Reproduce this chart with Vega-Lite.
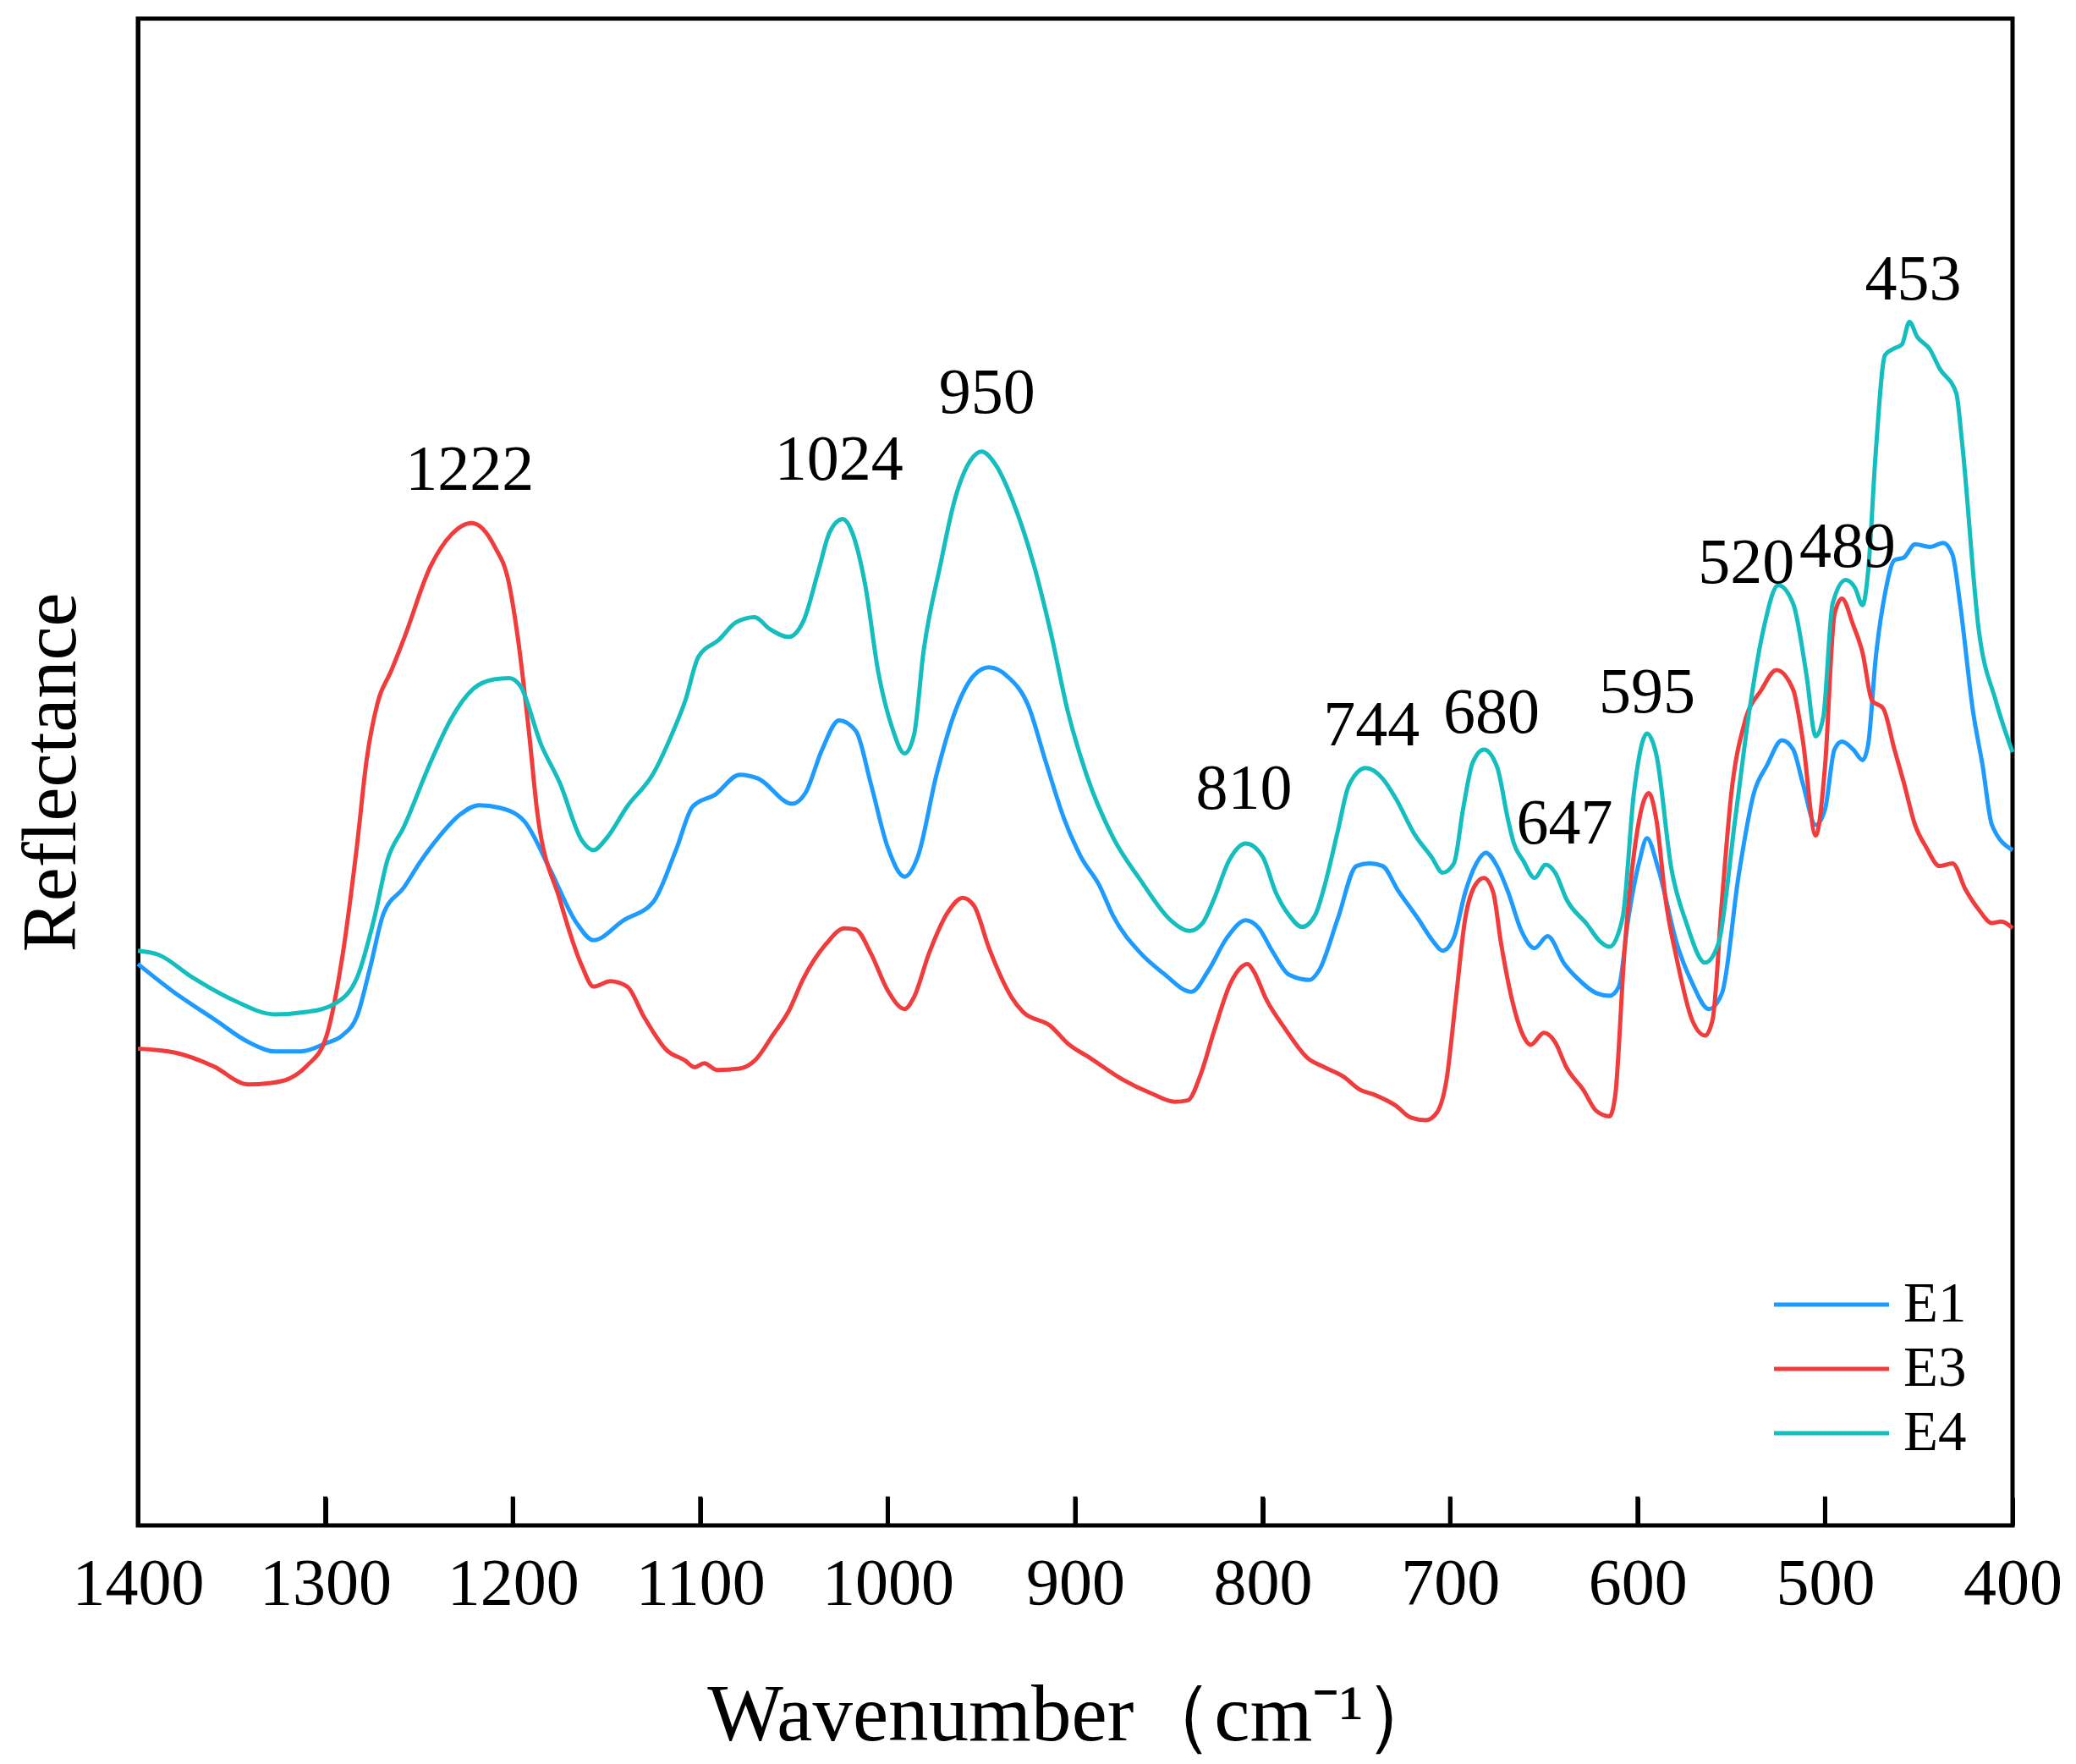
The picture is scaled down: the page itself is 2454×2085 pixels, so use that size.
{
  "$schema": "https://vega.github.io/schema/vega-lite/v6.json",
  "width": 2216,
  "height": 1781,
  "autosize": {"type": "none"},
  "padding": {"left": 163, "top": 22, "right": 75, "bottom": 282},
  "background": "white",
  "config": {
    "view": {"stroke": "black", "strokeWidth": 5},
    "font": "Liberation Serif"
  },
  "datasets": {
    "spectra": [
      {"s": "E1", "w": 1400, "r": 424}, {"s": "E1", "w": 1382, "r": 404}, {"s": "E1", "w": 1359, "r": 382},
      {"s": "E1", "w": 1341, "r": 365}, {"s": "E1", "w": 1327, "r": 358}, {"s": "E1", "w": 1313, "r": 358},
      {"s": "E1", "w": 1300, "r": 364}, {"s": "E1", "w": 1291, "r": 370}, {"s": "E1", "w": 1283, "r": 385},
      {"s": "E1", "w": 1276, "r": 422}, {"s": "E1", "w": 1269, "r": 462}, {"s": "E1", "w": 1258, "r": 482},
      {"s": "E1", "w": 1249, "r": 502}, {"s": "E1", "w": 1240, "r": 519}, {"s": "E1", "w": 1228, "r": 537},
      {"s": "E1", "w": 1218, "r": 544}, {"s": "E1", "w": 1207, "r": 542}, {"s": "E1", "w": 1194, "r": 532},
      {"s": "E1", "w": 1180, "r": 495}, {"s": "E1", "w": 1166, "r": 455}, {"s": "E1", "w": 1157, "r": 442},
      {"s": "E1", "w": 1141, "r": 457}, {"s": "E1", "w": 1125, "r": 471}, {"s": "E1", "w": 1113, "r": 510},
      {"s": "E1", "w": 1104, "r": 543}, {"s": "E1", "w": 1092, "r": 552}, {"s": "E1", "w": 1079, "r": 567},
      {"s": "E1", "w": 1069, "r": 564}, {"s": "E1", "w": 1051, "r": 545}, {"s": "E1", "w": 1044, "r": 553},
      {"s": "E1", "w": 1035, "r": 586}, {"s": "E1", "w": 1026, "r": 608}, {"s": "E1", "w": 1017, "r": 600},
      {"s": "E1", "w": 1009, "r": 560}, {"s": "E1", "w": 1000, "r": 512}, {"s": "E1", "w": 991, "r": 490},
      {"s": "E1", "w": 984, "r": 505}, {"s": "E1", "w": 974, "r": 567}, {"s": "E1", "w": 964, "r": 615},
      {"s": "E1", "w": 954, "r": 642}, {"s": "E1", "w": 946, "r": 648}, {"s": "E1", "w": 936, "r": 641},
      {"s": "E1", "w": 925, "r": 619}, {"s": "E1", "w": 916, "r": 578}, {"s": "E1", "w": 906, "r": 534},
      {"s": "E1", "w": 897, "r": 505}, {"s": "E1", "w": 887, "r": 483}, {"s": "E1", "w": 880, "r": 461},
      {"s": "E1", "w": 865, "r": 432}, {"s": "E1", "w": 853, "r": 417}, {"s": "E1", "w": 838, "r": 403},
      {"s": "E1", "w": 829, "r": 419}, {"s": "E1", "w": 819, "r": 444}, {"s": "E1", "w": 809, "r": 457},
      {"s": "E1", "w": 802, "r": 451}, {"s": "E1", "w": 795, "r": 434}, {"s": "E1", "w": 786, "r": 416},
      {"s": "E1", "w": 775, "r": 412}, {"s": "E1", "w": 770, "r": 419}, {"s": "E1", "w": 760, "r": 458},
      {"s": "E1", "w": 750, "r": 498}, {"s": "E1", "w": 743, "r": 500}, {"s": "E1", "w": 736, "r": 498},
      {"s": "E1", "w": 728, "r": 480}, {"s": "E1", "w": 717, "r": 458}, {"s": "E1", "w": 709, "r": 441},
      {"s": "E1", "w": 704, "r": 434}, {"s": "E1", "w": 698, "r": 444}, {"s": "E1", "w": 692, "r": 478},
      {"s": "E1", "w": 686, "r": 500}, {"s": "E1", "w": 681, "r": 508}, {"s": "E1", "w": 675, "r": 498},
      {"s": "E1", "w": 669, "r": 478}, {"s": "E1", "w": 662, "r": 449}, {"s": "E1", "w": 655, "r": 436},
      {"s": "E1", "w": 648, "r": 445}, {"s": "E1", "w": 639, "r": 424}, {"s": "E1", "w": 632, "r": 413},
      {"s": "E1", "w": 622, "r": 402}, {"s": "E1", "w": 615, "r": 400}, {"s": "E1", "w": 610, "r": 407},
      {"s": "E1", "w": 605, "r": 458}, {"s": "E1", "w": 599, "r": 502}, {"s": "E1", "w": 595, "r": 519},
      {"s": "E1", "w": 589, "r": 496}, {"s": "E1", "w": 579, "r": 439}, {"s": "E1", "w": 571, "r": 410},
      {"s": "E1", "w": 562, "r": 390}, {"s": "E1", "w": 555, "r": 402}, {"s": "E1", "w": 546, "r": 492},
      {"s": "E1", "w": 538, "r": 553}, {"s": "E1", "w": 531, "r": 574}, {"s": "E1", "w": 523, "r": 593},
      {"s": "E1", "w": 517, "r": 586}, {"s": "E1", "w": 512, "r": 561}, {"s": "E1", "w": 505, "r": 529},
      {"s": "E1", "w": 500, "r": 541}, {"s": "E1", "w": 495, "r": 586}, {"s": "E1", "w": 491, "r": 592},
      {"s": "E1", "w": 485, "r": 586}, {"s": "E1", "w": 480, "r": 578}, {"s": "E1", "w": 477, "r": 590},
      {"s": "E1", "w": 473, "r": 655}, {"s": "E1", "w": 468, "r": 704}, {"s": "E1", "w": 463, "r": 729},
      {"s": "E1", "w": 458, "r": 731}, {"s": "E1", "w": 452, "r": 741}, {"s": "E1", "w": 444, "r": 739},
      {"s": "E1", "w": 437, "r": 742}, {"s": "E1", "w": 432, "r": 733}, {"s": "E1", "w": 428, "r": 696},
      {"s": "E1", "w": 421, "r": 614}, {"s": "E1", "w": 416, "r": 574}, {"s": "E1", "w": 411, "r": 529},
      {"s": "E1", "w": 400, "r": 510},

      {"s": "E3", "w": 1400, "r": 360}, {"s": "E3", "w": 1380, "r": 357}, {"s": "E3", "w": 1360, "r": 347},
      {"s": "E3", "w": 1341, "r": 333}, {"s": "E3", "w": 1330, "r": 334}, {"s": "E3", "w": 1320, "r": 337},
      {"s": "E3", "w": 1310, "r": 347}, {"s": "E3", "w": 1300, "r": 367}, {"s": "E3", "w": 1291, "r": 429},
      {"s": "E3", "w": 1283, "r": 515}, {"s": "E3", "w": 1278, "r": 578}, {"s": "E3", "w": 1272, "r": 622},
      {"s": "E3", "w": 1265, "r": 645}, {"s": "E3", "w": 1258, "r": 670}, {"s": "E3", "w": 1244, "r": 724},
      {"s": "E3", "w": 1233, "r": 748},
      {"s": "E3", "w": 1222, "r": 757}, {"s": "E3", "w": 1210, "r": 740}, {"s": "E3", "w": 1202, "r": 711},
      {"s": "E3", "w": 1197, "r": 667}, {"s": "E3", "w": 1191, "r": 594}, {"s": "E3", "w": 1187, "r": 539},
      {"s": "E3", "w": 1175, "r": 473}, {"s": "E3", "w": 1163, "r": 422}, {"s": "E3", "w": 1157, "r": 407},
      {"s": "E3", "w": 1148, "r": 411}, {"s": "E3", "w": 1139, "r": 407}, {"s": "E3", "w": 1130, "r": 384},
      {"s": "E3", "w": 1118, "r": 359}, {"s": "E3", "w": 1108, "r": 351}, {"s": "E3", "w": 1103, "r": 346},
      {"s": "E3", "w": 1098, "r": 349}, {"s": "E3", "w": 1091, "r": 344}, {"s": "E3", "w": 1079, "r": 345},
      {"s": "E3", "w": 1071, "r": 351}, {"s": "E3", "w": 1061, "r": 371}, {"s": "E3", "w": 1053, "r": 388},
      {"s": "E3", "w": 1045, "r": 413}, {"s": "E3", "w": 1033, "r": 439}, {"s": "E3", "w": 1023, "r": 451},
      {"s": "E3", "w": 1017, "r": 450}, {"s": "E3", "w": 1009, "r": 432}, {"s": "E3", "w": 1000, "r": 404},
      {"s": "E3", "w": 991, "r": 390}, {"s": "E3", "w": 986, "r": 399}, {"s": "E3", "w": 978, "r": 432},
      {"s": "E3", "w": 968, "r": 463}, {"s": "E3", "w": 960, "r": 474}, {"s": "E3", "w": 954, "r": 468},
      {"s": "E3", "w": 946, "r": 436}, {"s": "E3", "w": 934, "r": 399}, {"s": "E3", "w": 928, "r": 388},
      {"s": "E3", "w": 913, "r": 377}, {"s": "E3", "w": 904, "r": 364}, {"s": "E3", "w": 892, "r": 353},
      {"s": "E3", "w": 875, "r": 337}, {"s": "E3", "w": 859, "r": 326}, {"s": "E3", "w": 847, "r": 320},
      {"s": "E3", "w": 840, "r": 321}, {"s": "E3", "w": 833, "r": 341}, {"s": "E3", "w": 826, "r": 373},
      {"s": "E3", "w": 817, "r": 410}, {"s": "E3", "w": 808, "r": 424}, {"s": "E3", "w": 805, "r": 419},
      {"s": "E3", "w": 798, "r": 397}, {"s": "E3", "w": 788, "r": 375}, {"s": "E3", "w": 776, "r": 353},
      {"s": "E3", "w": 767, "r": 346}, {"s": "E3", "w": 757, "r": 339}, {"s": "E3", "w": 748, "r": 329},
      {"s": "E3", "w": 740, "r": 325}, {"s": "E3", "w": 729, "r": 317}, {"s": "E3", "w": 721, "r": 308},
      {"s": "E3", "w": 713, "r": 306}, {"s": "E3", "w": 707, "r": 312}, {"s": "E3", "w": 702, "r": 336},
      {"s": "E3", "w": 697, "r": 397}, {"s": "E3", "w": 692, "r": 458}, {"s": "E3", "w": 686, "r": 485},
      {"s": "E3", "w": 682, "r": 489}, {"s": "E3", "w": 677, "r": 478}, {"s": "E3", "w": 673, "r": 441},
      {"s": "E3", "w": 667, "r": 397}, {"s": "E3", "w": 662, "r": 373}, {"s": "E3", "w": 657, "r": 363},
      {"s": "E3", "w": 650, "r": 372}, {"s": "E3", "w": 644, "r": 365}, {"s": "E3", "w": 638, "r": 346},
      {"s": "E3", "w": 629, "r": 329}, {"s": "E3", "w": 622, "r": 313}, {"s": "E3", "w": 615, "r": 309},
      {"s": "E3", "w": 612, "r": 324}, {"s": "E3", "w": 607, "r": 434}, {"s": "E3", "w": 601, "r": 517},
      {"s": "E3", "w": 594, "r": 553}, {"s": "E3", "w": 590, "r": 533}, {"s": "E3", "w": 585, "r": 472},
      {"s": "E3", "w": 579, "r": 427}, {"s": "E3", "w": 571, "r": 382}, {"s": "E3", "w": 564, "r": 370},
      {"s": "E3", "w": 560, "r": 382}, {"s": "E3", "w": 555, "r": 472}, {"s": "E3", "w": 550, "r": 553},
      {"s": "E3", "w": 543, "r": 606}, {"s": "E3", "w": 534, "r": 631}, {"s": "E3", "w": 526, "r": 646},
      {"s": "E3", "w": 517, "r": 631}, {"s": "E3", "w": 512, "r": 594}, {"s": "E3", "w": 505, "r": 521},
      {"s": "E3", "w": 500, "r": 574}, {"s": "E3", "w": 495, "r": 688}, {"s": "E3", "w": 491, "r": 700},
      {"s": "E3", "w": 485, "r": 680}, {"s": "E3", "w": 480, "r": 659}, {"s": "E3", "w": 475, "r": 623},
      {"s": "E3", "w": 469, "r": 617}, {"s": "E3", "w": 463, "r": 586}, {"s": "E3", "w": 458, "r": 561},
      {"s": "E3", "w": 452, "r": 529}, {"s": "E3", "w": 446, "r": 512}, {"s": "E3", "w": 439, "r": 498},
      {"s": "E3", "w": 432, "r": 500}, {"s": "E3", "w": 425, "r": 480}, {"s": "E3", "w": 418, "r": 465},
      {"s": "E3", "w": 411, "r": 455}, {"s": "E3", "w": 406, "r": 456}, {"s": "E3", "w": 400, "r": 451},

      {"s": "E4", "w": 1400, "r": 434}, {"s": "E4", "w": 1389, "r": 431}, {"s": "E4", "w": 1371, "r": 414},
      {"s": "E4", "w": 1348, "r": 396}, {"s": "E4", "w": 1327, "r": 386}, {"s": "E4", "w": 1309, "r": 388},
      {"s": "E4", "w": 1295, "r": 394}, {"s": "E4", "w": 1283, "r": 414}, {"s": "E4", "w": 1274, "r": 458},
      {"s": "E4", "w": 1267, "r": 502}, {"s": "E4", "w": 1258, "r": 528}, {"s": "E4", "w": 1244, "r": 576},
      {"s": "E4", "w": 1233, "r": 609}, {"s": "E4", "w": 1221, "r": 632}, {"s": "E4", "w": 1210, "r": 639},
      {"s": "E4", "w": 1202, "r": 640}, {"s": "E4", "w": 1196, "r": 634}, {"s": "E4", "w": 1185, "r": 590},
      {"s": "E4", "w": 1175, "r": 561}, {"s": "E4", "w": 1163, "r": 517}, {"s": "E4", "w": 1157, "r": 510},
      {"s": "E4", "w": 1150, "r": 519}, {"s": "E4", "w": 1139, "r": 543}, {"s": "E4", "w": 1125, "r": 568},
      {"s": "E4", "w": 1115, "r": 598}, {"s": "E4", "w": 1108, "r": 623}, {"s": "E4", "w": 1101, "r": 656},
      {"s": "E4", "w": 1090, "r": 669}, {"s": "E4", "w": 1081, "r": 682}, {"s": "E4", "w": 1071, "r": 686},
      {"s": "E4", "w": 1063, "r": 677}, {"s": "E4", "w": 1053, "r": 671}, {"s": "E4", "w": 1045, "r": 683},
      {"s": "E4", "w": 1037, "r": 721}, {"s": "E4", "w": 1031, "r": 750}, {"s": "E4", "w": 1024, "r": 760},
      {"s": "E4", "w": 1019, "r": 750}, {"s": "E4", "w": 1012, "r": 710}, {"s": "E4", "w": 1005, "r": 644},
      {"s": "E4", "w": 998, "r": 604}, {"s": "E4", "w": 991, "r": 583}, {"s": "E4", "w": 986, "r": 597},
      {"s": "E4", "w": 981, "r": 659}, {"s": "E4", "w": 972, "r": 725}, {"s": "E4", "w": 964, "r": 776},
      {"s": "E4", "w": 956, "r": 804}, {"s": "E4", "w": 950, "r": 811}, {"s": "E4", "w": 942, "r": 800},
      {"s": "E4", "w": 934, "r": 776}, {"s": "E4", "w": 922, "r": 725}, {"s": "E4", "w": 913, "r": 674},
      {"s": "E4", "w": 904, "r": 615}, {"s": "E4", "w": 894, "r": 567}, {"s": "E4", "w": 880, "r": 520},
      {"s": "E4", "w": 865, "r": 487}, {"s": "E4", "w": 849, "r": 457}, {"s": "E4", "w": 839, "r": 449},
      {"s": "E4", "w": 832, "r": 455}, {"s": "E4", "w": 826, "r": 473}, {"s": "E4", "w": 818, "r": 502},
      {"s": "E4", "w": 809, "r": 515}, {"s": "E4", "w": 800, "r": 505}, {"s": "E4", "w": 793, "r": 478},
      {"s": "E4", "w": 786, "r": 461}, {"s": "E4", "w": 779, "r": 452}, {"s": "E4", "w": 772, "r": 461},
      {"s": "E4", "w": 767, "r": 483}, {"s": "E4", "w": 760, "r": 524}, {"s": "E4", "w": 754, "r": 559},
      {"s": "E4", "w": 745, "r": 572}, {"s": "E4", "w": 736, "r": 564}, {"s": "E4", "w": 729, "r": 549},
      {"s": "E4", "w": 719, "r": 522}, {"s": "E4", "w": 710, "r": 505}, {"s": "E4", "w": 704, "r": 493},
      {"s": "E4", "w": 698, "r": 500}, {"s": "E4", "w": 693, "r": 542}, {"s": "E4", "w": 688, "r": 576},
      {"s": "E4", "w": 682, "r": 586}, {"s": "E4", "w": 675, "r": 573}, {"s": "E4", "w": 669, "r": 532},
      {"s": "E4", "w": 666, "r": 515}, {"s": "E4", "w": 661, "r": 502}, {"s": "E4", "w": 655, "r": 489},
      {"s": "E4", "w": 649, "r": 499}, {"s": "E4", "w": 644, "r": 493}, {"s": "E4", "w": 638, "r": 473},
      {"s": "E4", "w": 627, "r": 454}, {"s": "E4", "w": 620, "r": 441}, {"s": "E4", "w": 615, "r": 437},
      {"s": "E4", "w": 608, "r": 459}, {"s": "E4", "w": 602, "r": 553}, {"s": "E4", "w": 595, "r": 598},
      {"s": "E4", "w": 590, "r": 582}, {"s": "E4", "w": 582, "r": 496}, {"s": "E4", "w": 574, "r": 455},
      {"s": "E4", "w": 564, "r": 425}, {"s": "E4", "w": 557, "r": 439}, {"s": "E4", "w": 548, "r": 533},
      {"s": "E4", "w": 540, "r": 619}, {"s": "E4", "w": 533, "r": 676}, {"s": "E4", "w": 525, "r": 710},
      {"s": "E4", "w": 517, "r": 696}, {"s": "E4", "w": 510, "r": 643}, {"s": "E4", "w": 505, "r": 596},
      {"s": "E4", "w": 501, "r": 610}, {"s": "E4", "w": 496, "r": 696}, {"s": "E4", "w": 489, "r": 714},
      {"s": "E4", "w": 484, "r": 708}, {"s": "E4", "w": 480, "r": 695}, {"s": "E4", "w": 477, "r": 721},
      {"s": "E4", "w": 473, "r": 810}, {"s": "E4", "w": 468, "r": 884}, {"s": "E4", "w": 463, "r": 889},
      {"s": "E4", "w": 459, "r": 892}, {"s": "E4", "w": 455, "r": 909}, {"s": "E4", "w": 451, "r": 898},
      {"s": "E4", "w": 444, "r": 888}, {"s": "E4", "w": 439, "r": 874}, {"s": "E4", "w": 430, "r": 855},
      {"s": "E4", "w": 427, "r": 819}, {"s": "E4", "w": 418, "r": 676}, {"s": "E4", "w": 409, "r": 623},
      {"s": "E4", "w": 400, "r": 584}
    ],
    "peaks": [
      {"label": "1222", "w": 1223, "r": 782},
      {"label": "1024", "w": 1026, "r": 790},
      {"label": "950", "w": 947, "r": 840},
      {"label": "810", "w": 810, "r": 541},
      {"label": "744", "w": 742, "r": 589},
      {"label": "680", "w": 678, "r": 599},
      {"label": "647", "w": 639, "r": 515},
      {"label": "595", "w": 595, "r": 614},
      {"label": "520", "w": 542, "r": 712},
      {"label": "489", "w": 488, "r": 724},
      {"label": "453", "w": 453, "r": 926}
    ],
    "tickmarks": [
      {"w": 1300}, {"w": 1200}, {"w": 1100}, {"w": 1000}, {"w": 900},
      {"w": 800}, {"w": 700}, {"w": 600}, {"w": 500}
    ]
  },
  "layer": [
    {
      "data": {"name": "spectra"},
      "mark": {"type": "line", "strokeWidth": 5, "interpolate": "monotone"},
      "encoding": {
        "x": {
          "field": "w",
          "type": "quantitative",
          "scale": {"domain": [400, 1400], "reverse": true, "nice": false, "zero": false, "padding": 0},
          "axis": {
            "title": "Wavenumber（cm⁻¹）",
            "titleFont": "Liberation Serif",
            "titleFontSize": 95,
            "titleFontWeight": "normal",
            "titleColor": "black",
            "titlePadding": 70,
            "values": [1400, 1300, 1200, 1100, 1000, 900, 800, 700, 600, 500, 400],
            "format": "d",
            "domain": false,
            "ticks": true,
            "tickSize": -33,
            "tickWidth": 5,
            "tickColor": "black",
            "labelFont": "Liberation Serif",
            "labelFontSize": 78,
            "labelColor": "black",
            "labelPadding": 63,
            "labelFlush": false,
            "labelOverlap": false,
            "grid": false,
            "zindex": 2
          }
        },
        "y": {
          "field": "r",
          "type": "quantitative",
          "scale": {"domain": [0, 1138], "nice": false, "zero": false, "padding": 0},
          "axis": {
            "title": "Reflectance",
            "titleFont": "Liberation Serif",
            "titleFontSize": 90,
            "titleFontWeight": "normal",
            "titleColor": "black",
            "titlePadding": 56,
            "labels": false,
            "ticks": false,
            "grid": false,
            "domainColor": "black",
            "domainWidth": 5
          }
        },
        "color": {
          "field": "s",
          "type": "nominal",
          "scale": {"domain": ["E1", "E3", "E4"], "range": ["#1E9BFF", "#F03C3C", "#14BEBE"]},
          "legend": {
            "title": null,
            "orient": "none",
            "legendX": 1931,
            "legendY": 1484,
            "padding": 0,
            "symbolType": "stroke",
            "symbolSize": 18500,
            "symbolStrokeWidth": 5,
            "clipHeight": 72,
            "labelFont": "Liberation Serif",
            "labelFontSize": 67,
            "labelColor": "black",
            "labelOffset": 14,
            "rowPadding": 4
          }
        }
      }
    },
    {
      "data": {"name": "tickmarks"},
      "mark": {"type": "tick", "orient": "vertical", "size": 34, "thickness": 5, "color": "black", "opacity": 1},
      "encoding": {
        "x": {"field": "w", "type": "quantitative"},
        "y": {"datum": 11}
      }
    },
    {
      "data": {"name": "peaks"},
      "mark": {"type": "text", "font": "Liberation Serif", "fontSize": 76, "color": "black", "align": "center", "baseline": "alphabetic"},
      "encoding": {
        "x": {"field": "w", "type": "quantitative"},
        "y": {"field": "r", "type": "quantitative"},
        "text": {"field": "label", "type": "nominal"}
      }
    }
  ]
}
